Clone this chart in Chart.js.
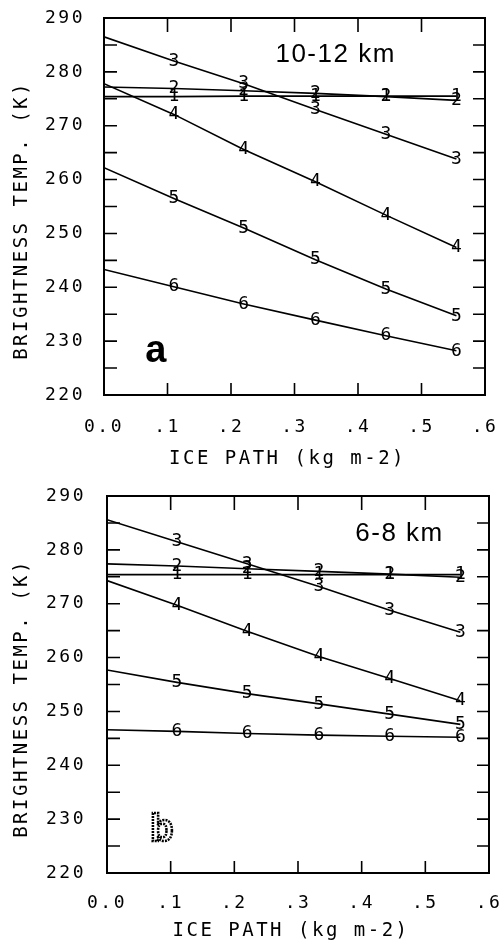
<!DOCTYPE html>
<html>
<head>
<meta charset="utf-8">
<title>Brightness temperature vs ice path</title>
<script src="https://cdn.jsdelivr.net/npm/chart.js@4.4.1/dist/chart.umd.min.js"></script>
<style>
  html, body { margin: 0; padding: 0; background: #fff; }
  body { width: 502px; height: 947px; position: relative; overflow: hidden; }
  canvas { position: absolute; left: 0; }
  #chartA { top: 0; }
  #chartB { top: 473px; }
</style>
</head>
<body>
<canvas id="chartA" width="502" height="473"></canvas>
<canvas id="chartB" width="502" height="474"></canvas>
<script>
// ice path sample points (kg m-2), same for both panels
const icePath = [0, 0.11, 0.22, 0.333, 0.444, 0.555];
const channels = ['1', '2', '3', '4', '5', '6'];

// panel a: cloud at 10-12 km
const ch1A = [275.4, 275.4, 275.5, 275.5, 275.5, 275.5];
const ch2A = [277.2, 276.9, 276.5, 276.0, 275.4, 274.7];
const ch3A = [286.5, 282.0, 277.8, 273.0, 268.4, 263.8];
const ch4A = [277.8, 272.1, 265.6, 259.6, 253.4, 247.4];
const ch5A = [262.2, 256.5, 251.0, 245.1, 239.7, 234.7];
const ch6A = [243.3, 240.1, 236.9, 233.9, 231.0, 228.2];

// panel b: cloud at 6-8 km
const ch1B = [275.4, 275.4, 275.4, 275.4, 275.4, 275.4];
const ch2B = [277.4, 277.0, 276.5, 276.0, 275.5, 274.9];
const ch3B = [285.6, 281.5, 277.4, 273.2, 268.8, 264.7];
const ch4B = [274.3, 269.7, 264.9, 260.2, 256.1, 252.0];
const ch5B = [257.7, 255.4, 253.3, 251.4, 249.5, 247.6];
const ch6B = [246.6, 246.3, 245.9, 245.6, 245.4, 245.2];

// inward tick marks on the frame
const xTickMarks = [0.1, 0.2, 0.3, 0.4, 0.5];
const yTickMarks = [225, 230, 235, 240, 245, 250, 255, 260, 265, 270, 275, 280, 285];

const MONO = '"DejaVu Sans Mono", "Liberation Mono", monospace';
const SANS = '"Liberation Sans", Arial, sans-serif';
const SPACING = '2.5px';

const plotterFrame = {
  id: 'plotterFrame',
  beforeUpdate(chart) { chart.ctx.letterSpacing = SPACING; },
  beforeDraw(chart) { chart.ctx.letterSpacing = SPACING; },
  afterDatasetsDraw(chart, args, opts) {
    const { ctx, chartArea: a, scales: { x, y } } = chart;
    ctx.save();
    ctx.letterSpacing = '0px';
    ctx.strokeStyle = '#000';
    ctx.fillStyle = '#000';

    // box
    ctx.lineWidth = 2;
    ctx.strokeRect(a.left, a.top, a.right - a.left, a.bottom - a.top);

    // ticks pointing into the plot
    ctx.lineWidth = 1.6;
    ctx.beginPath();
    xTickMarks.forEach(v => {
      const px = x.getPixelForValue(v);
      ctx.moveTo(px, a.bottom); ctx.lineTo(px, a.bottom - 12);
      ctx.moveTo(px, a.top); ctx.lineTo(px, a.top + 14);
    });
    yTickMarks.forEach(v => {
      const py = y.getPixelForValue(v);
      ctx.moveTo(a.left, py); ctx.lineTo(a.left + 13, py);
      ctx.moveTo(a.right, py); ctx.lineTo(a.right - 12, py);
    });
    ctx.stroke();

    // channel numbers sit on each computed point
    ctx.font = '18px ' + MONO;
    ctx.textAlign = 'center';
    ctx.textBaseline = 'middle';
    chart.data.datasets.forEach((ds, i) => {
      chart.getDatasetMeta(i).data.forEach((pt, j) => {
        if (j === 0) return;
        ctx.fillText(ds.label, pt.x, pt.y);
      });
    });

    // cloud height label
    ctx.textAlign = 'left';
    ctx.letterSpacing = '1.5px';
    ctx.font = '26px ' + SANS;
    ctx.fillText(opts.height, x.getPixelForValue(opts.heightAt[0]), y.getPixelForValue(opts.heightAt[1]));
    ctx.letterSpacing = '0px';

    // panel letter
    ctx.font = 'bold 38px ' + SANS;
    const lx = x.getPixelForValue(opts.letterAt[0]);
    const ly = y.getPixelForValue(opts.letterAt[1]);
    if (opts.dotted) {
      ctx.lineWidth = 2.6;
      ctx.setLineDash([2, 1]);
      ctx.strokeText(opts.letter, lx, ly);
    } else {
      ctx.fillText(opts.letter, lx, ly);
    }
    ctx.restore();
  }
};

function makePanel(id, series, box) {
  const datasets = series.map((vals, i) => ({
    label: channels[i],
    data: icePath.map((v, k) => ({ x: v, y: vals[k] })),
    borderColor: '#000',
    borderWidth: 1.6,
    pointRadius: 0,
    tension: 0,
    fill: false
  }));

  return new Chart(document.getElementById(id), {
    type: 'line',
    data: { datasets },
    plugins: [plotterFrame],
    options: {
      responsive: false,
      animation: false,
      events: [],
      layout: { padding: { left: 0, right: box.right, top: box.top, bottom: 0 } },
      plugins: {
        legend: { display: false },
        tooltip: { enabled: false },
        plotterFrame: box.labels
      },
      scales: {
        x: {
          type: 'linear',
          min: 0,
          max: 0.6,
          afterFit: s => {
            s.height = box.xAxisH;
            s.paddingLeft = 0;
            s.paddingRight = 0;
          },
          grid: { display: false, drawTicks: false },
          border: { display: false },
          ticks: {
            stepSize: 0.1,
            autoSkip: false,
            maxRotation: 0,
            padding: box.xTickPad,
            color: '#000',
            font: { family: MONO, size: 18 },
            callback: v => v === 0 ? '0.0' : v.toFixed(1).replace(/^0/, '')
          },
          title: {
            display: true,
            text: 'ICE PATH (kg m-2) ',
            color: '#000',
            font: { family: MONO, size: 19 },
            padding: { top: 0, bottom: box.xTitlePad }
          }
        },
        y: {
          min: 220,
          max: 290,
          afterFit: s => {
            s.width = box.yAxisW;
            s.paddingTop = 0;
            s.paddingBottom = 0;
          },
          grid: { display: false, drawTicks: false },
          border: { display: false },
          ticks: {
            stepSize: 10,
            padding: box.yTickPad,
            color: '#000',
            font: { family: MONO, size: 18 }
          },
          title: {
            display: true,
            text: 'BRIGHTNESS TEMP. (K)  ',
            color: '#000',
            font: { family: MONO, size: 19 },
            padding: { top: 11, bottom: 0 }
          }
        }
      }
    }
  });
}

makePanel('chartA', [ch1A, ch2A, ch3A, ch4A, ch5A, ch6A], {
  right: 17, top: 18, xAxisH: 78, yAxisW: 104,
  xTickPad: 22, xTitlePad: 3, yTickPad: 19,
  labels: { height: '10-12 km', heightAt: [0.27, 283.2], letter: 'a', letterAt: [0.065, 228], dotted: false }
});

makePanel('chartB', [ch1B, ch2B, ch3B, ch4B, ch5B, ch6B], {
  right: 13, top: 23, xAxisH: 74, yAxisW: 107,
  xTickPad: 20, xTitlePad: 5, yTickPad: 21,
  labels: { height: '6-8 km', heightAt: [0.39, 282.9], letter: 'b', letterAt: [0.068, 227.8], dotted: true }
});
</script>
</body>
</html>
